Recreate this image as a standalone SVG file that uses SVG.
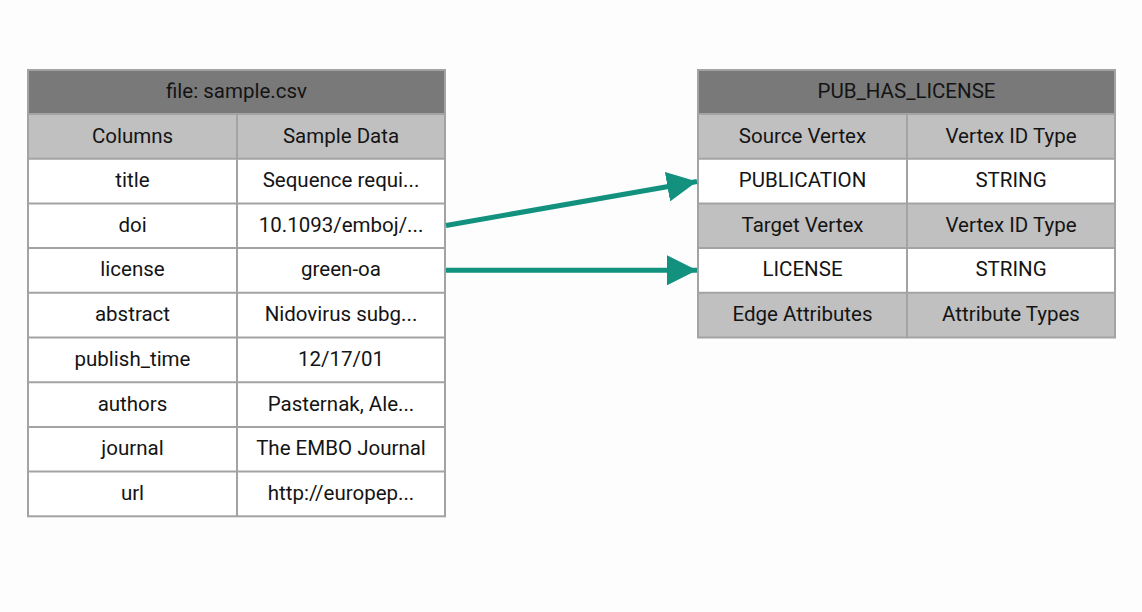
<svg xmlns="http://www.w3.org/2000/svg" width="1142" height="612" viewBox="0 0 1142 612">
<style>
text{font-family:Roboto,"Liberation Sans",sans-serif;font-size:20.5px;fill:#141414;text-anchor:middle}
.hd{fill:#797979}
.sub{fill:#c0c0c0}
.cell{fill:#ffffff}
.bd{fill:none;stroke:#a3a3a3;stroke-width:2}
.ln{stroke:#a3a3a3;stroke-width:2}
.conn{stroke:#13917f;stroke-width:5;fill:none}
</style>
<defs>
<marker id="ah" markerUnits="userSpaceOnUse" markerWidth="30" markerHeight="30" viewBox="0 0 28 28" refX="28" refY="14" orient="auto">
<path d="M0,0 L28,14 L0,28 Z" fill="#13917f"/>
</marker>
</defs>
<rect width="1142" height="612" fill="#fdfdfd"/>

<g id="csv">
<rect class="hd" x="28" y="70" width="417" height="44"/>
<rect class="sub" x="28" y="114" width="417" height="44.7"/>
<rect class="cell" x="28" y="158.7" width="417" height="357.6"/>
<line class="ln" x1="28" y1="114" x2="445" y2="114"/>
<line class="ln" x1="28" y1="158.7" x2="445" y2="158.7"/>
<line class="ln" x1="28" y1="203.4" x2="445" y2="203.4"/>
<line class="ln" x1="28" y1="248.1" x2="445" y2="248.1"/>
<line class="ln" x1="28" y1="292.8" x2="445" y2="292.8"/>
<line class="ln" x1="28" y1="337.5" x2="445" y2="337.5"/>
<line class="ln" x1="28" y1="382.2" x2="445" y2="382.2"/>
<line class="ln" x1="28" y1="426.9" x2="445" y2="426.9"/>
<line class="ln" x1="28" y1="471.6" x2="445" y2="471.6"/>
<line class="ln" x1="237" y1="114" x2="237" y2="516.3"/>
<rect class="bd" x="28" y="70" width="417" height="446.3"/>
<text x="236.5" y="98">file: sample.csv</text>
<text x="132.5" y="142.5">Columns</text><text x="341" y="142.5">Sample Data</text>
<text x="132.5" y="187">title</text><text x="341" y="187">Sequence requi...</text>
<text x="132.5" y="231.7">doi</text><text x="341" y="231.7">10.1093/emboj/...</text>
<text x="132.5" y="276.4">license</text><text x="341" y="276.4">green-oa</text>
<text x="132.5" y="321.1">abstract</text><text x="341" y="321.1">Nidovirus subg...</text>
<text x="132.5" y="365.8">publish_time</text><text x="341" y="365.8">12/17/01</text>
<text x="132.5" y="410.5">authors</text><text x="341" y="410.5">Pasternak, Ale...</text>
<text x="132.5" y="455.2">journal</text><text x="341" y="455.2">The EMBO Journal</text>
<text x="132.5" y="499.9">url</text><text x="341" y="499.9">http://europep...</text>
</g>

<g id="edge">
<rect class="hd" x="698" y="70" width="417" height="44"/>
<rect class="sub" x="698" y="114" width="417" height="44.7"/>
<rect class="cell" x="698" y="158.7" width="417" height="44.7"/>
<rect class="sub" x="698" y="203.4" width="417" height="44.7"/>
<rect class="cell" x="698" y="248.1" width="417" height="44.7"/>
<rect class="sub" x="698" y="292.8" width="417" height="44.7"/>
<line class="ln" x1="698" y1="114" x2="1115" y2="114"/>
<line class="ln" x1="698" y1="158.7" x2="1115" y2="158.7"/>
<line class="ln" x1="698" y1="203.4" x2="1115" y2="203.4"/>
<line class="ln" x1="698" y1="248.1" x2="1115" y2="248.1"/>
<line class="ln" x1="698" y1="292.8" x2="1115" y2="292.8"/>
<line class="ln" x1="907" y1="114" x2="907" y2="337.5"/>
<rect class="bd" x="698" y="70" width="417" height="267.5"/>
<text x="906.5" y="98">PUB_HAS_LICENSE</text>
<text x="802.5" y="142.5">Source Vertex</text><text x="1011" y="142.5">Vertex ID Type</text>
<text x="802.5" y="187">PUBLICATION</text><text x="1011" y="187">STRING</text>
<text x="802.5" y="231.7">Target Vertex</text><text x="1011" y="231.7">Vertex ID Type</text>
<text x="802.5" y="276.4">LICENSE</text><text x="1011" y="276.4">STRING</text>
<text x="802.5" y="321.1">Edge Attributes</text><text x="1011" y="321.1">Attribute Types</text>
</g>

<g id="connectors">
<line class="conn" x1="446" y1="225.5" x2="697" y2="181.5" marker-end="url(#ah)"/>
<line class="conn" x1="446" y1="270.3" x2="697" y2="270.3" marker-end="url(#ah)"/>
</g>
</svg>
